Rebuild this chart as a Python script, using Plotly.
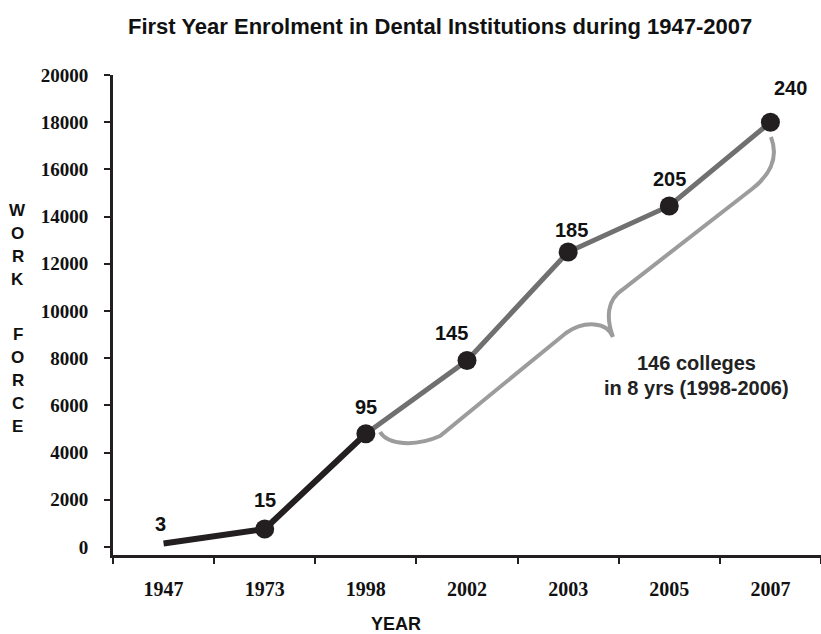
import plotly.graph_objects as go

# ---- data ----
years = ["1947", "1973", "1998", "2002", "2003", "2005", "2007"]
work_force = [150, 760, 4800, 7900, 12500, 14450, 18000]
colleges = ["3", "15", "95", "145", "185", "205", "240"]
y_ticks = [0, 2000, 4000, 6000, 8000, 10000, 12000, 14000, 16000, 18000, 20000]
title_text = "First Year Enrolment in Dental Institutions during 1947-2007"
note_lines = ["146 colleges", "in 8 yrs (1998-2006)"]
y_title = "WORK FORCE"

# ---- layout constants (pixels) ----
W, H = 821, 634
L, R, T, B = 113, 0, 75, 79
PW, PH = W - L - R, H - T - B

def px(x):
    return (x - L) / PW

def py(y):
    return (H - B - y) / PH

DARK = "#231f20"
GRAY = "#707070"
BRACE = "#9c9c9c"
SANS = "Liberation Sans, Arial, sans-serif"
SERIF = "Liberation Serif, Times New Roman, serif"

fig = go.Figure()

# early period (dark)
fig.add_trace(go.Scatter(
    x=years[:3], y=work_force[:3], mode="lines",
    line=dict(color=DARK, width=6), hoverinfo="skip", showlegend=False))
# 1998 onwards (gray)
fig.add_trace(go.Scatter(
    x=years[2:], y=work_force[2:], mode="lines",
    line=dict(color=GRAY, width=5), hoverinfo="skip", showlegend=False))
# markers (no marker at 1947)
fig.add_trace(go.Scatter(
    x=years[1:], y=work_force[1:], mode="markers",
    marker=dict(color=DARK, size=19, line=dict(width=0)),
    showlegend=False))

# labels above points (pixel offsets)
label_dx = [-3, 0, 0, -16, 3, 0, 20]
label_dy = [19, 29, 27, 28, 22, 27, 34]
for i, (v, c, dx, dy) in enumerate(zip(work_force, colleges, label_dx, label_dy)):
    fig.add_annotation(x=i, y=v, xref="x", yref="y", text=c, showarrow=False,
                       xanchor="center", yanchor="middle", xshift=dx, yshift=dy,
                       font=dict(family=SANS, size=20, color="#111", weight="bold"))

# curly brace (decoration)
pts = [("M", [(380, 432)]),
       ("C", [(388, 445), (415, 447), (440, 436)]),
       ("L", [(566, 333)]),
       ("C", [(585, 320), (607, 322), (613, 337)]),
       ("C", [(606, 318), (607, 300), (622, 290)]),
       ("L", [(752, 189)]),
       ("C", [(770, 175), (779, 158), (771, 137)])]
path = " ".join(cmd + " " + " ".join(f"{px(a):.5f},{py(b):.5f}" for a, b in p) for cmd, p in pts)
fig.add_shape(type="path", path=path, xref="paper", yref="paper",
              line=dict(color=BRACE, width=4), layer="below")

# note text
for txt, yy in zip(note_lines, [363, 388]):
    fig.add_annotation(x=px(696), y=py(yy), xref="paper", yref="paper", text=txt,
                       showarrow=False, xanchor="center", yanchor="middle",
                       font=dict(family=SANS, size=20, color="#222", weight="bold"))

# vertical stacked y-axis title
for i, ch in enumerate(y_title):
    if ch == " ":
        continue
    yy = 210 + 23.2 * i + (8 if i > 4 else 0)
    fig.add_annotation(x=px(18), y=py(yy), xref="paper", yref="paper", text=ch,
                       showarrow=False, xanchor="center", yanchor="middle",
                       font=dict(family=SANS, size=17, color="#111", weight="bold"))

# x-axis title
fig.add_annotation(x=px(396), y=py(624), xref="paper", yref="paper", text="YEAR",
                   showarrow=False, xanchor="center", yanchor="middle",
                   font=dict(family=SANS, size=18, color="#111", weight="bold"))

# title
fig.add_annotation(x=px(440), y=py(26), xref="paper", yref="paper", text=title_text,
                   showarrow=False, xanchor="center", yanchor="middle",
                   font=dict(family=SANS, size=22, color="#111", weight="bold"))

fig.update_layout(
    width=W, height=H,
    margin=dict(l=L, r=R, t=T, b=B, pad=0, autoexpand=False),
    paper_bgcolor="white", plot_bgcolor="white",
    showlegend=False,
    xaxis=dict(type="category", categoryorder="array", categoryarray=years,
               range=[-0.5, 6.5], showgrid=False, zeroline=False,
               showline=True, linecolor=DARK, linewidth=3,
               ticks="outside", tickson="boundaries", ticklen=6, tickwidth=2,
               tickcolor=DARK, ticklabelstandoff=14,
               tickfont=dict(family=SERIF, size=20, color="#111", weight="bold")),
    yaxis=dict(range=[-340, 20000], tickvals=y_ticks, tickformat="d",
               showgrid=False, zeroline=False,
               showline=True, linecolor=DARK, linewidth=3,
               ticks="outside", ticklen=6, tickwidth=2, tickcolor=DARK,
               ticklabelstandoff=12,
               tickfont=dict(family=SERIF, size=19, color="#111", weight="bold")),
)

fig.write_html("out.html", config={"displayModeBar": False},
               post_script="document.body.style.margin='0';document.body.style.overflow='hidden';")
